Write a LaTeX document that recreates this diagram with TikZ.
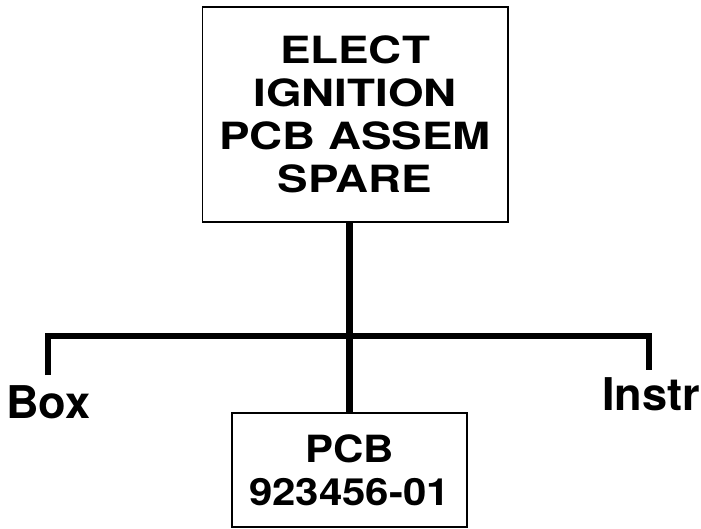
\documentclass[tikz,border=0pt]{standalone}
\usepackage{fontspec}
\setmainfont{TeX Gyre Heros}
\usetikzlibrary{positioning}
\newcommand{\wideline}[2]{\scalebox{#1}[1]{#2}}
\tikzset{
    chart box/.style={
        draw,
        line width=1.7pt,
        inner sep=0pt,
        align=center,
        font=\fontsize{32}{36.7}\selectfont\bfseries
    },
    chart label/.style={
        inner sep=0pt,
        font=\fontsize{38.5}{42}\selectfont\bfseries
    },
    chart link/.style={line width=5.5pt}
}

\begin{document}
\begin{tikzpicture}[x=0.03cm,y=-0.03cm]
    \useasboundingbox (0,0) rectangle (701,528);

    \node[chart box, minimum width=9.15cm, minimum height=6.45cm] (spare) at (355,114.5)
        {\wideline{1.22}{ELECT}\\\wideline{1.22}{IGNITION}\\\wideline{1.22}{PCB ASSEM}\\\wideline{1.22}{SPARE}};
    \node[chart box, minimum width=7.05cm, minimum height=3.42cm] (pcb) at (349.5,470)
        {\wideline{1.12}{PCB}\\\wideline{1.12}{923456-01}};

    \node[chart label, anchor=base west] (box) at (6,418) {Box};
    \node[chart label, anchor=base east] (instr) at (700,410) {Instr};

    \coordinate (boxend) at (48,375);
    \coordinate (instrend) at (649,370);
    \coordinate (joint) at (350,336);

    \draw[chart link] (pcb.north) -- (pcb.north |- spare.south);
    \draw[chart link] (boxend) -- (boxend |- joint) -- (instrend |- joint) -- (instrend);
\end{tikzpicture}
\end{document}
